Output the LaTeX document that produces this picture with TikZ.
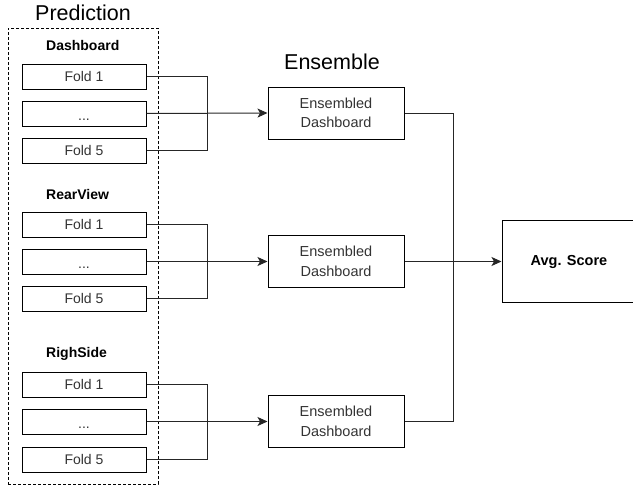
\documentclass[tikz,border=0pt]{standalone}
\usepackage{fontspec}
\setmainfont{Liberation Sans}
\usepackage{xcolor}
\usepackage{tikz}
\usetikzlibrary{arrows.meta}

\tikzset{
    fold/.style={draw, line width=1pt, minimum width=124pt, minimum height=25pt,
        inner sep=0pt, text=black!80, font=\fontsize{14}{16}\selectfont},
    ens/.style={draw, line width=1pt, minimum width=136pt, minimum height=52pt,
        inner sep=0pt, align=center, text=black!80, font=\fontsize{14.5}{19.5}\selectfont},
    grouplabel/.style={anchor=west, inner sep=0pt, font=\fontsize{14}{16}\selectfont\bfseries},
    title/.style={inner sep=0pt, font=\fontsize{21.5}{24}\selectfont},
    wire/.style={line width=1pt, black!85},
    arr/.style={wire, -{Stealth[length=10pt, width=9pt, inset=2.5pt]}}
}

% dots sit on the baseline, lower in the box
\newcommand{\folddots}{\raisebox{-7pt}[0pt][0pt]{...}}

\begin{document}
\begin{tikzpicture}[x=1pt, y=-1pt]
    \useasboundingbox (0,0) rectangle (633,493);
    \clip (0,0) rectangle (633,493);

    % prediction column
    \node[title] (predtitle) at (83,13) {Prediction};
    \node[draw, dashed, line width=1pt, dash pattern=on 3pt off 2pt,
          minimum width=150pt, minimum height=456pt] (pred) at (83,256) {};

    \node[grouplabel] (dash) at (46,45) {Dashboard};
    \node[fold] (d1) at (84,76.5) {Fold 1};
    \node[fold] (d2) at (84,113.5) {\folddots};
    \node[fold] (d5) at (84,150.5) {Fold 5};

    \node[grouplabel] (rear) at (46,194) {RearView};
    \node[fold] (r1) at (84,224.5) {Fold 1};
    \node[fold] (r2) at (84,261.5) {\folddots};
    \node[fold] (r5) at (84,298.5) {Fold 5};

    \node[grouplabel] (righ) at (46,354) {RighSide};
    \node[fold] (s1) at (84,384.5) {Fold 1};
    \node[fold] (s2) at (84,421.5) {\folddots};
    \node[fold] (s5) at (84,459.5) {Fold 5};

    % ensemble column
    \node[title] (enstitle) at (332,62) {Ensemble};
    \node[ens] (e1) at (336,113) {Ensembled\\Dashboard};
    \node[ens] (e2) at (336,261.5) {Ensembled\\Dashboard};
    \node[ens] (e3) at (336,421.5) {Ensembled\\Dashboard};

    \node[draw, line width=1pt, minimum width=134pt, minimum height=82pt,
          font=\fontsize{14.5}{16}\selectfont\bfseries] (avg) at (569,261.5) {Avg. Score};

    % joins
    \coordinate (jd) at (207,113.5);
    \coordinate (jr) at (207,261.5);
    \coordinate (js) at (207,421.5);
    \coordinate (je) at (453,261.5);

    % Dashboard -> ensemble
    \draw[wire] (d1.east) -| (jd);
    \draw[wire] (d5.east) -| (jd);
    \draw[arr] (d2.east) -- (e1.west);

    % RearView -> ensemble
    \draw[wire] (r1.east) -| (jr);
    \draw[wire] (r5.east) -| (jr);
    \draw[arr] (r2.east) -- (e2.west);

    % RighSide -> ensemble
    \draw[wire] (s1.east) -| (js);
    \draw[wire] (s5.east) -| (js);
    \draw[arr] (s2.east) -- (e3.west);

    % ensemble -> score
    \draw[wire] (e1.east) -| (je);
    \draw[wire] (e3.east) -| (je);
    \draw[arr] (e2.east) -- (avg.west);
\end{tikzpicture}
\end{document}
